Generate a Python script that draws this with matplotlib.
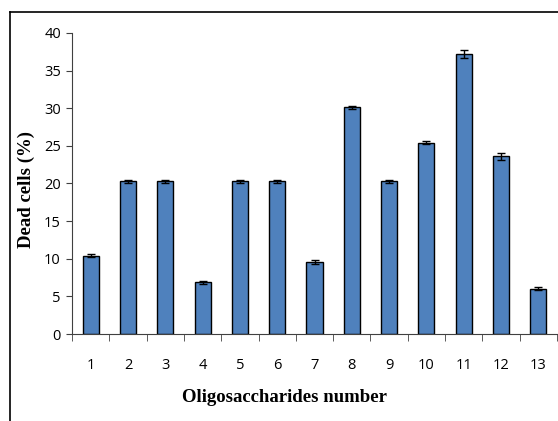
import matplotlib
matplotlib.use('Agg')
import matplotlib.pyplot as plt
from matplotlib.lines import Line2D
import numpy as np

# Dead cells per oligosaccharide
samples = [str(i) for i in range(1, 14)]
dead_cells = [10.4, 20.3, 20.3, 6.9, 20.3, 20.3, 9.6, 30.1, 20.3, 25.4, 37.2, 23.6, 6.0]
errors = [0.2, 0.2, 0.2, 0.2, 0.2, 0.2, 0.3, 0.2, 0.2, 0.2, 0.5, 0.5, 0.2]

W, H = 558, 421
fig = plt.figure(figsize=(W / 100, H / 100), dpi=100)
ax = fig.add_axes([72 / W, (H - 334) / H, (557 - 72) / W, (334 - 33) / H])

x = np.arange(len(samples))
ax.bar(x, dead_cells, width=0.43, color='#4F81BD', edgecolor='black', linewidth=1.0,
       yerr=errors, capsize=3, error_kw=dict(ecolor='black', elinewidth=1, capthick=1))

ax.set_xlim(-0.5, len(samples) - 0.5)
ax.set_ylim(0, 40)
ax.set_yticks(range(0, 41, 5))
ax.set_xticks(x)
ax.set_xticklabels(samples)
ax.set_xticks(np.arange(-0.5, len(samples), 1.0), minor=True)
ax.tick_params(axis='x', which='major', length=0, pad=17)
ax.tick_params(axis='x', which='minor', length=5, color='#404040')
ax.tick_params(axis='y', length=4, color='#404040', pad=4)
for lbl in ax.get_xticklabels() + ax.get_yticklabels():
    lbl.set_fontfamily('Open Sans')
    lbl.set_fontsize(10.5)

for s in ['top', 'right']:
    ax.spines[s].set_visible(False)
for s in ['left', 'bottom']:
    ax.spines[s].set_color('#404040')

ax.set_xlabel('Oligosaccharides number', fontfamily='Liberation Serif',
              fontweight='bold', fontsize=13.5)
ax.xaxis.set_label_coords((285 - 72) / (557 - 72), -(389 - 334) / (334 - 33))
ax.set_ylabel('Dead cells (%)', fontfamily='Liberation Serif',
              fontweight='bold', fontsize=13.5)
ax.yaxis.set_label_coords(-(72 - 35) / (557 - 72), (334 - 190) / (334 - 33))

# outer frame around the chart
fig.add_artist(Line2D([10 / W, 1.0], [1 - 12 / H, 1 - 12 / H], transform=fig.transFigure,
                      color='black', linewidth=1.2))
fig.add_artist(Line2D([10 / W, 10 / W], [0, 1 - 12 / H], transform=fig.transFigure,
                      color='black', linewidth=1.2))

fig.savefig('out.png', dpi=100)
